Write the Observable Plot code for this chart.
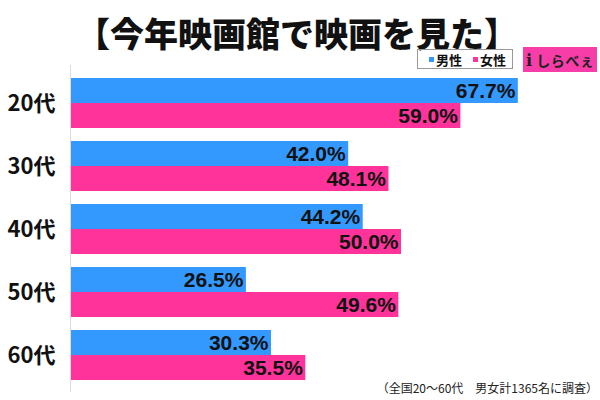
<!DOCTYPE html>
<html><head><meta charset="utf-8">
<script src="https://cdn.jsdelivr.net/npm/d3@7"></script>
<script src="https://cdn.jsdelivr.net/npm/@observablehq/plot@0.6"></script>
<style>
body{margin:0;background:#fff;font-family:"Noto Sans CJK JP","Noto Sans",sans-serif;}
#wrap{position:relative;width:600px;height:400px;overflow:hidden;}
#title{position:absolute;left:0;width:594px;top:16px;height:34px;line-height:34px;text-align:center;font-size:34px;font-weight:900;color:#111;white-space:nowrap;}
#legend{position:absolute;left:417px;top:49px;width:94px;height:18px;border:1px solid #999;font-size:13px;font-weight:bold;color:#111;display:flex;align-items:center;white-space:nowrap;}
#legend .sq{display:inline-block;width:5px;height:5px;margin-right:2px;}
#legend .item{display:flex;align-items:center;line-height:15px;}
#logo{position:absolute;left:523px;top:47px;width:74px;height:25px;background:#f73ea8;color:#222;white-space:nowrap;}
#logo .big{position:absolute;left:3px;top:4px;font-size:14px;font-weight:bold;line-height:18px;letter-spacing:0.5px;}
#axisline{position:absolute;left:70px;top:65px;width:1px;height:327px;background:#ddd;}
#chart{position:absolute;left:0;top:70px;}
#note{position:absolute;right:2px;top:380px;font-size:12px;line-height:16px;color:#222;white-space:pre;}
g[aria-label="fy-axis tick label"] text{font-family:"Noto Sans CJK JP",sans-serif;font-weight:bold;font-size:22px;fill:#111;}
</style></head>
<body>
<div id="wrap">
  <div id="title">【今年映画館で映画を見た】</div>
  <div id="legend"><div class="item" style="margin-left:11px"><span class="sq" style="background:#3399ff"></span>男性</div><div class="item" style="margin-left:11px"><span class="sq" style="background:#ff3399"></span>女性</div></div>
  <div id="logo"><div class="big"><span style="font-family:'DejaVu Serif';font-size:16px">i</span> しらべぇ</div></div>
  <div id="axisline"></div>
  <div id="chart"></div>
  <div id="note">（全国20〜60代　男女計1365名に調査）</div>
</div>
<script>
const ages = ["20代","30代","40代","50代","60代"];
const genders = ["男性","女性"];
const maleValues = [67.7, 42.0, 44.2, 26.5, 30.3];
const femaleValues = [59.0, 48.1, 50.0, 49.6, 35.5];
const colors = ["#3399ff", "#ff3399"];

const rows = [];
ages.forEach((a, i) => {
  rows.push({age: a, gender: genders[0], value: maleValues[i]});
  rows.push({age: a, gender: genders[1], value: femaleValues[i]});
});

const chart = Plot.plot({
  width: 600,
  height: 330,
  marginTop: 6,
  marginBottom: 17,
  marginLeft: 71,
  marginRight: 1,
  x: {domain: [0, 80], axis: null},
  y: {domain: genders, axis: null, padding: 0},
  fy: {domain: ages, label: null, tickSize: 0, tickPadding: 16, paddingInner: 0.2, paddingOuter: 0},
  color: {domain: genders, range: colors},
  style: {fontFamily: "'Noto Sans CJK JP', sans-serif", background: "transparent"},
  marks: [
    Plot.barX(rows, {x: "value", y: "gender", fy: "age", fill: "gender"}),
    Plot.text(rows, {x: "value", y: "gender", fy: "age", text: d => d.value.toFixed(1) + "%",
      textAnchor: "end", dx: -3, fontSize: 21, fontWeight: "bold", fill: "#111",
      fontFamily: "'Liberation Sans', Arial, sans-serif"})
  ]
});
document.getElementById("chart").appendChild(chart);
</script>
</body></html>
